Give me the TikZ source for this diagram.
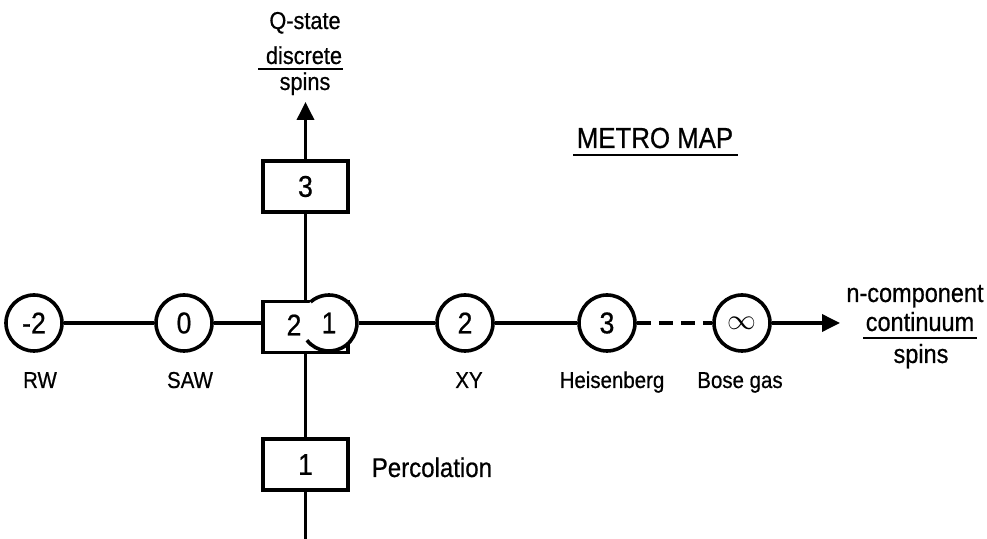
\documentclass[tikz,border=0pt]{standalone}
\usepackage{fontspec}
\setmainfont{Liberation Sans}[FakeStretch=0.89,FakeBold=0.6]
\usetikzlibrary{arrows.meta}
\begin{document}
\begin{tikzpicture}[x=0.5pt,y=-0.5pt,line width=1.8pt,
  station/.style={circle,draw,fill=white,minimum size=28pt,inner sep=0pt,font=\fontsize{15}{18}\selectfont},
  stopbox/.style={rectangle,draw,fill=white,minimum width=42.5pt,minimum height=25.5pt,inner sep=0pt,font=\fontsize{15}{18}\selectfont},
  lbl/.style={anchor=base,inner sep=0pt,font=\fontsize{11.5}{14}\selectfont},
  toplbl/.style={anchor=base,inner sep=0pt,font=\fontsize{12.2}{14}\selectfont},
  rightlbl/.style={anchor=base,inner sep=0pt,font=\fontsize{13.2}{15}\selectfont},
  uline/.style={line width=1.3pt},
  tip/.style={-{Triangle[length=9pt,width=8.5pt]}}]
\useasboundingbox (0,0) rectangle (987,539);
% stations on the horizontal line
\node[station] (rw) at (34,323) {-2};
\node[station] (saw) at (184,323) {0};
\node[stopbox] (b2) at (305.5,327) {};
\node[station,draw=none] (c1) at (329,323) {1};
\draw ([shift={(-142:14pt)}]c1.center) arc[start angle=-142,end angle=131,radius=14pt];
\node[inner sep=0pt,font=\fontsize{15}{18}\selectfont] (t2) at (294,325) {2};
\node[station] (c2) at (465,323) {2};
\node[station] (c3) at (607,323) {3};
\node[station] (cinf) at (742,323) {$\infty$};
\coordinate (tipR) at (840,323);
% stations on the vertical line
\node[stopbox] (b3) at (305.5,186.5) {3};
\node[stopbox] (b1) at (305.5,464.5) {1};
\coordinate (tipT) at (305.5,102);
\coordinate (bot) at (305.5,540);
% connectors
\draw (rw) -- (saw);
\draw (saw.east) -- (saw.east -| b2.west);
\draw (c1.east) -- (c2);
\draw (c2) -- (c3);
\draw[dash pattern=on 7pt off 4pt] (c3) -- (cinf);
\draw[tip] (cinf) -- (tipR);
\draw[tip] (b3) -- (tipT);
\draw (b3) -- (b2);
\draw (b2) -- (b1);
\draw (b1) -- (bot);
% labels
\node[lbl] (lrw) at (40,388) {RW};
\node[lbl] (lsaw) at (190,388) {SAW};
\node[lbl] (lxy) at (469,388) {XY};
\node[lbl] (lheis) at (612,388) {Heisenberg};
\node[lbl] (lbose) at (740,388) {Bose gas};
\node[anchor=base west,inner sep=0pt,font=\fontsize{13.5}{16}\selectfont] (lperc) at (370,477) {Percolation};
\node[toplbl] (q1) at (305,29) {Q-state};
\node[toplbl] (q2) at (304,64) {discrete};
\draw[uline] (258,69) -- (343,69);
\node[toplbl] (q3) at (305,90) {spins};
\node[rightlbl] (r1) at (915,302) {n-component};
\node[rightlbl] (r2) at (920,331) {continuum};
\draw[uline] (863,338) -- (977,338);
\node[rightlbl] (r3) at (921,363) {spins};
\node[anchor=base,inner sep=0pt,font=\fontsize{14.5}{17}\selectfont] (title) at (655,148) {METRO MAP};
\draw[uline] (573,155) -- (738,155);
\end{tikzpicture}
\end{document}
